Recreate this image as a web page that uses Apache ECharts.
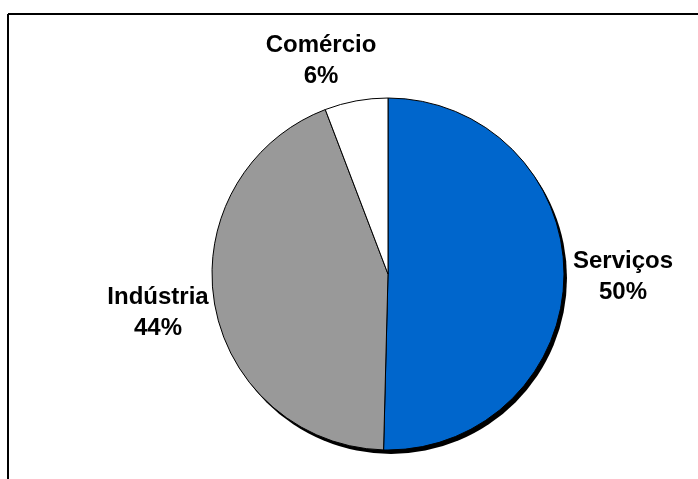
<!DOCTYPE html>
<html>
<head>
<meta charset="utf-8">
<script src="https://cdn.jsdelivr.net/npm/echarts@6/dist/echarts.min.js"></script>
<style>
  html, body { margin: 0; padding: 0; background: #ffffff; }
  #chart { width: 698px; height: 479px; }
</style>
</head>
<body>
<div id="chart"></div>
<script>
// Sector shares of the economy
const sectors = ['Serviços', 'Indústria', 'Comércio'];
const shares = [50.4, 43.8, 5.8];
const sectorColors = ['#0066CC', '#999999', '#FFFFFF'];

const chart = echarts.init(document.getElementById('chart'), null, { renderer: 'canvas' });

const center = [388, 274];
const radius = 176;

// Label anchor points (centre of each two-line label)
const labelSpots = [
  { x: 623, y: 277 },
  { x: 158, y: 313 },
  { x: 321, y: 61 }
];

const option = {
  backgroundColor: '#ffffff',
  animation: false,
  graphic: [
    { type: 'line', shape: { x1: 8, y1: 14, x2: 698, y2: 14 }, style: { stroke: '#000', lineWidth: 2 } },
    { type: 'line', shape: { x1: 8, y1: 14, x2: 8, y2: 479 }, style: { stroke: '#000', lineWidth: 2 } }
  ],
  series: [
    {
      // drop shadow disc behind the pie
      type: 'pie',
      silent: true,
      center: [center[0] + 3, center[1] + 4],
      radius: radius,
      label: { show: false },
      labelLine: { show: false },
      itemStyle: { color: '#000000', borderWidth: 0 },
      data: [{ value: 1, name: '' }],
      z: 1
    },
    {
      type: 'pie',
      center: center,
      radius: radius,
      startAngle: 90,
      clockwise: true,
      percentPrecision: 0,
      z: 2,
      itemStyle: { borderColor: '#000000', borderWidth: 1 },
      label: {
        show: true,
        position: 'outside',
        formatter: '{b}\n{d}%',
        fontFamily: 'Liberation Sans, Arial, sans-serif',
        fontWeight: 'bold',
        fontSize: 24,
        lineHeight: 31,
        color: '#000000',
        align: 'center',
        overflow: 'none',
        width: 200
      },
      labelLine: { show: false },
      labelLayout: function (params) {
        const p = labelSpots[params.dataIndex];
        return { x: p.x, y: p.y, align: 'center', verticalAlign: 'middle' };
      },
      data: sectors.map((name, i) => ({
        name: name,
        value: shares[i],
        itemStyle: { color: sectorColors[i] }
      }))
    }
  ]
};

chart.setOption(option);
</script>
</body>
</html>
